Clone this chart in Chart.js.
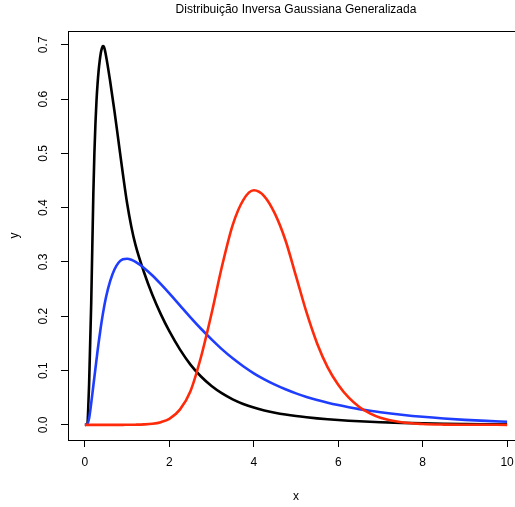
<!DOCTYPE html>
<html><head><meta charset="utf-8">
<script src="https://cdn.jsdelivr.net/npm/chart.js@4"></script>
<style>html,body{margin:0;padding:0;overflow:hidden;background:#fff}#wrap{width:524px;height:507px;position:relative}</style>
</head><body><div id="wrap"><canvas id="c" width="524" height="507"></canvas></div>
<script>
const titleText = "Distribuição Inversa Gaussiana Generalizada";
const xLabel = "x";
const yLabel = "y";
const xTicks = [0, 2, 4, 6, 8, 10];
const yTicks = [0, 0.1, 0.2, 0.3, 0.4, 0.5, 0.6, 0.7];

const xs = [0, 0.05, 0.1, 0.15, 0.2, 0.225, 0.25, 0.275, 0.3, 0.325, 0.35, 0.375, 0.4, 0.425, 0.45,
  0.5,
  0.6, 0.7, 0.8, 0.9, 1.0, 1.1, 1.2,
  1.4, 1.6, 1.8,
  2.0, 2.25, 2.5, 2.75, 3.0, 3.25, 3.5, 3.75, 4.0, 4.25, 4.5, 4.75, 5.0, 5.25, 5.5, 5.75, 6.0, 6.25, 6.5, 6.75, 7.0,
  7.5, 8.0, 8.5, 9.0, 9.5, 10.0];

const yBlack = [0, 0.001, 0.075, 0.225, 0.425, 0.5, 0.555, 0.597, 0.628, 0.652, 0.67, 0.684, 0.693, 0.6975, 0.6965,
  0.68,
  0.632, 0.578, 0.52, 0.462, 0.408, 0.365, 0.331,
  0.281, 0.239, 0.2035,
  0.1725, 0.139, 0.111, 0.089, 0.0715, 0.0578, 0.047, 0.0385, 0.0318, 0.0265, 0.0224, 0.019, 0.0162, 0.0139, 0.0119, 0.0102, 0.0088, 0.0076, 0.0065, 0.0056, 0.0048,
  0.0036, 0.0027, 0.002, 0.0015, 0.0011, 0.0008];

const yBlue = [0, 0.0005, 0.012, 0.04, 0.072, 0.088, 0.104, 0.12, 0.136, 0.151, 0.165, 0.179, 0.192, 0.204, 0.215,
  0.235,
  0.265, 0.286, 0.299, 0.305, 0.306, 0.304, 0.300,
  0.289, 0.275, 0.259,
  0.242, 0.220, 0.198, 0.177, 0.1575, 0.139, 0.1225, 0.108, 0.095, 0.0838, 0.074, 0.0655, 0.058, 0.0515, 0.0458, 0.0408, 0.0364, 0.0325, 0.029, 0.026, 0.0233,
  0.0187, 0.0148, 0.0117, 0.0092, 0.0073, 0.0058];

const yRed = [0, 0, 0, 0, 0, 0, 0, 0, 0, 0, 0, 0, 0, 0, 0,
  0,
  0, 0, 0, 0, 0.0001, 0.0002, 0.0003,
  0.0008, 0.002, 0.005,
  0.011, 0.028, 0.062, 0.125, 0.205, 0.293, 0.368, 0.414, 0.432, 0.421, 0.389, 0.340, 0.274, 0.207, 0.150, 0.106, 0.074, 0.050, 0.033, 0.021, 0.013,
  0.0047, 0.0016, 0.0005, 0.0002, 0.0001, 0];

const FONT = '"Liberation Sans", Arial, Helvetica, sans-serif';
const toPts = ys => xs.map((x, i) => ({x: x, y: ys[i]}));

const boxAndTitle = {
  id: 'boxAndTitle',
  afterDraw(chart) {
    const ctx = chart.ctx, a = chart.chartArea;
    ctx.save();
    ctx.strokeStyle = '#000';
    ctx.lineWidth = 1;
    ctx.strokeRect(Math.round(a.left) + 0.5, Math.round(a.top) + 0.5, Math.round(a.right - a.left), Math.round(a.bottom - a.top));
    ctx.fillStyle = '#000';
    ctx.font = '12px ' + FONT;
    ctx.textAlign = 'center';
    ctx.textBaseline = 'middle';
    ctx.fillText(titleText, (a.left + a.right) / 2, 10);
    ctx.restore();
  }
};

const line = (label, data, color, order) => ({
  label, data: toPts(data), borderColor: color, borderWidth: 2.6,
  pointRadius: 0, fill: false, cubicInterpolationMode: 'monotone', order
});

new Chart(document.getElementById('c'), {
  type: 'line',
  data: {
    datasets: [
      line('black', yBlack, '#000000', 3),
      line('blue', yBlue, '#1f3dff', 2),
      line('red', yRed, '#ff2a0a', 1)
    ]
  },
  options: {
    responsive: false,
    animation: false,
    devicePixelRatio: 1,
    layout: {padding: {top: 31, left: 0, right: 0, bottom: 0}},
    plugins: {legend: {display: false}, tooltip: {enabled: false}, title: {display: false}},
    scales: {
      x: {
        type: 'linear', min: -0.4, max: 10.4,
        afterBuildTicks: s => { s.ticks = xTicks.map(v => ({value: v})); },
        afterFit: s => { s.height = 67; },
        grid: {drawOnChartArea: false, drawTicks: true, tickLength: 7, color: '#000', lineWidth: 1},
        border: {display: false},
        ticks: {color: '#000', font: {family: FONT, size: 12}, padding: 8, maxRotation: 0, callback: v => String(v)},
        title: {display: true, text: xLabel, color: '#000', font: {family: FONT, size: 12}, padding: {top: 0, bottom: 3}}
      },
      y: {
        type: 'linear', min: -0.0279, max: 0.7254,
        afterBuildTicks: s => { s.ticks = yTicks.map(v => ({value: v})); },
        afterFit: s => { s.width = 68; },
        grid: {drawOnChartArea: false, drawTicks: true, tickLength: 7, color: '#000', lineWidth: 1},
        border: {display: false},
        ticks: {color: '#000', font: {family: FONT, size: 12}, padding: 9, minRotation: 90, maxRotation: 90, crossAlign: 'center', callback: v => v.toFixed(1)},
        title: {display: true, text: yLabel, color: '#000', font: {family: FONT, size: 12}, padding: {top: 7, bottom: 0}}
      }
    }
  },
  plugins: [boxAndTitle]
});
</script>
</body></html>
